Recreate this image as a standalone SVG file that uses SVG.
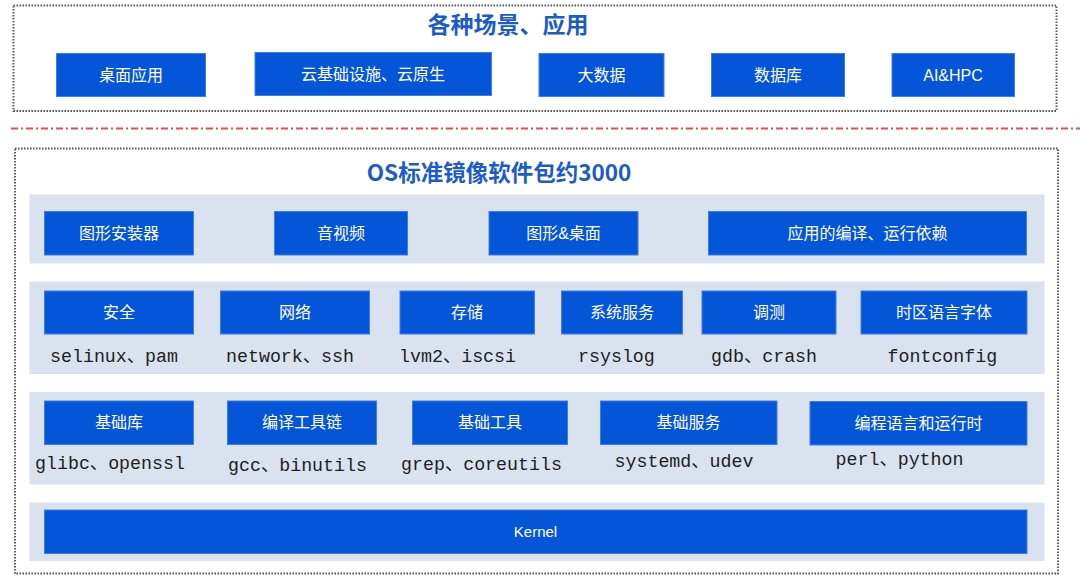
<svg xmlns="http://www.w3.org/2000/svg" width="1080" height="581" viewBox="0 0 1080 581">
<style>
.frame{fill:none;stroke:#5c5c5c;stroke-width:2;stroke-dasharray:1.6 1.4}
.band{fill:#dae2f0}
.box{fill:#0455d8;stroke:#3c7ee6;stroke-width:1}
.lbl{font-family:"Liberation Sans","Noto Sans CJK SC",sans-serif;font-size:16px;fill:#ffffff;text-anchor:middle}
.ttl{font-family:"Noto Sans CJK SC",sans-serif;font-size:23px;font-weight:700;fill:#1c5cc8;text-anchor:middle}
.mono{font-family:"Liberation Mono","Noto Sans CJK SC",monospace;font-size:18.3px;fill:#1e1e1e}
.sep{stroke:#e0504c;stroke-width:2;stroke-dasharray:7 3 2 3;fill:none}
</style>
<rect width="1080" height="581" fill="#ffffff"/>

<g id="scenarios">
<rect class="frame" x="13.5" y="5.5" width="1043" height="105.5"/>
<text class="ttl" x="508" y="33">各种场景、应用</text>
<g id="n-desktop-app"><rect class="box" x="56.5" y="53.5" width="149" height="43"/><text class="lbl" x="131" y="80.5">桌面应用</text></g>
<g id="n-cloud"><rect class="box" x="255" y="52.5" width="236.5" height="43"/><text class="lbl" x="373" y="79.5">云基础设施、云原生</text></g>
<g id="n-bigdata"><rect class="box" x="539" y="53.5" width="125" height="43"/><text class="lbl" x="601.5" y="80.5">大数据</text></g>
<g id="n-database"><rect class="box" x="711.5" y="53.5" width="133" height="43"/><text class="lbl" x="778" y="80.5">数据库</text></g>
<g id="n-aihpc"><rect class="box" x="892" y="53.5" width="122.5" height="43"/><text class="lbl" x="953" y="80.5">AI&amp;HPC</text></g>
</g>

<g id="connectors">
<line class="sep" x1="11" y1="128.5" x2="1080" y2="128.5"/>
</g>

<g id="os-image">
<rect class="frame" x="15" y="148.5" width="1043" height="425"/>
<text class="ttl" x="499" y="181" style="font-size:22.5px">OS标准镜像软件包约3000</text>

<rect class="band" x="29.5" y="194.5" width="1015" height="69"/>
<rect class="band" x="29.5" y="281.5" width="1015" height="92.5"/>
<rect class="band" x="29.5" y="392" width="1015" height="92.5"/>
<rect class="band" x="29.5" y="502.5" width="1015" height="58.5"/>

<g id="n-installer"><rect class="box" x="44.5" y="211.5" width="149" height="43.5"/><text class="lbl" x="119" y="238.8">图形安装器</text></g>
<g id="n-av"><rect class="box" x="274.5" y="211.5" width="133" height="43.5"/><text class="lbl" x="341" y="238.8">音视频</text></g>
<g id="n-graphics"><rect class="box" x="489" y="211.5" width="149" height="43.5"/><text class="lbl" x="563.5" y="238.8">图形&amp;桌面</text></g>
<g id="n-appdeps"><rect class="box" x="708.5" y="211.5" width="318" height="43.5"/><text class="lbl" x="867.5" y="238.8">应用的编译、运行依赖</text></g>

<g id="n-security"><rect class="box" x="44.5" y="291" width="149" height="43"/><text class="lbl" x="119" y="318">安全</text><text class="mono" x="50" y="361.5">selinux、pam</text></g>
<g id="n-network"><rect class="box" x="220.5" y="291" width="149" height="43"/><text class="lbl" x="295" y="318">网络</text><text class="mono" x="226" y="361.5">network、ssh</text></g>
<g id="n-storage"><rect class="box" x="400" y="291" width="134.5" height="43"/><text class="lbl" x="467" y="318">存储</text><text class="mono" x="399" y="361.5">lvm2、iscsi</text></g>
<g id="n-sysservice"><rect class="box" x="561.5" y="291" width="121" height="43"/><text class="lbl" x="622" y="318">系统服务</text><text class="mono" x="578" y="361.5">rsyslog</text></g>
<g id="n-debug"><rect class="box" x="702" y="291" width="134" height="43"/><text class="lbl" x="769" y="318">调测</text><text class="mono" x="711" y="361.5">gdb、crash</text></g>
<g id="n-locale"><rect class="box" x="861" y="291" width="166" height="43"/><text class="lbl" x="944" y="318">时区语言字体</text><text class="mono" x="887.5" y="361.5">fontconfig</text></g>

<g id="n-baselib"><rect class="box" x="44.5" y="401" width="149" height="43.5"/><text class="lbl" x="119" y="428.3">基础库</text><text class="mono" x="35" y="469">glibc、openssl</text></g>
<g id="n-toolchain"><rect class="box" x="227.5" y="401" width="149" height="43.5"/><text class="lbl" x="302" y="428.3">编译工具链</text><text class="mono" x="228" y="470.5">gcc、binutils</text></g>
<g id="n-basetools"><rect class="box" x="412.5" y="401" width="155" height="43.5"/><text class="lbl" x="490" y="428.3">基础工具</text><text class="mono" x="401" y="470">grep、coreutils</text></g>
<g id="n-baseservice"><rect class="box" x="600.5" y="401" width="176.5" height="43.5"/><text class="lbl" x="688.5" y="428.3">基础服务</text><text class="mono" x="614.5" y="467">systemd、udev</text></g>
<g id="n-langs"><rect class="box" x="810" y="401.5" width="217" height="43.5"/><text class="lbl" x="918.5" y="428.8">编程语言和运行时</text><text class="mono" x="835.5" y="465">perl、python</text></g>

<g id="n-kernel"><rect class="box" x="44.5" y="510" width="982.5" height="43.5"/><text class="lbl" x="535.5" y="537" style="font-size:15px">Kernel</text></g>
</g>
</svg>
